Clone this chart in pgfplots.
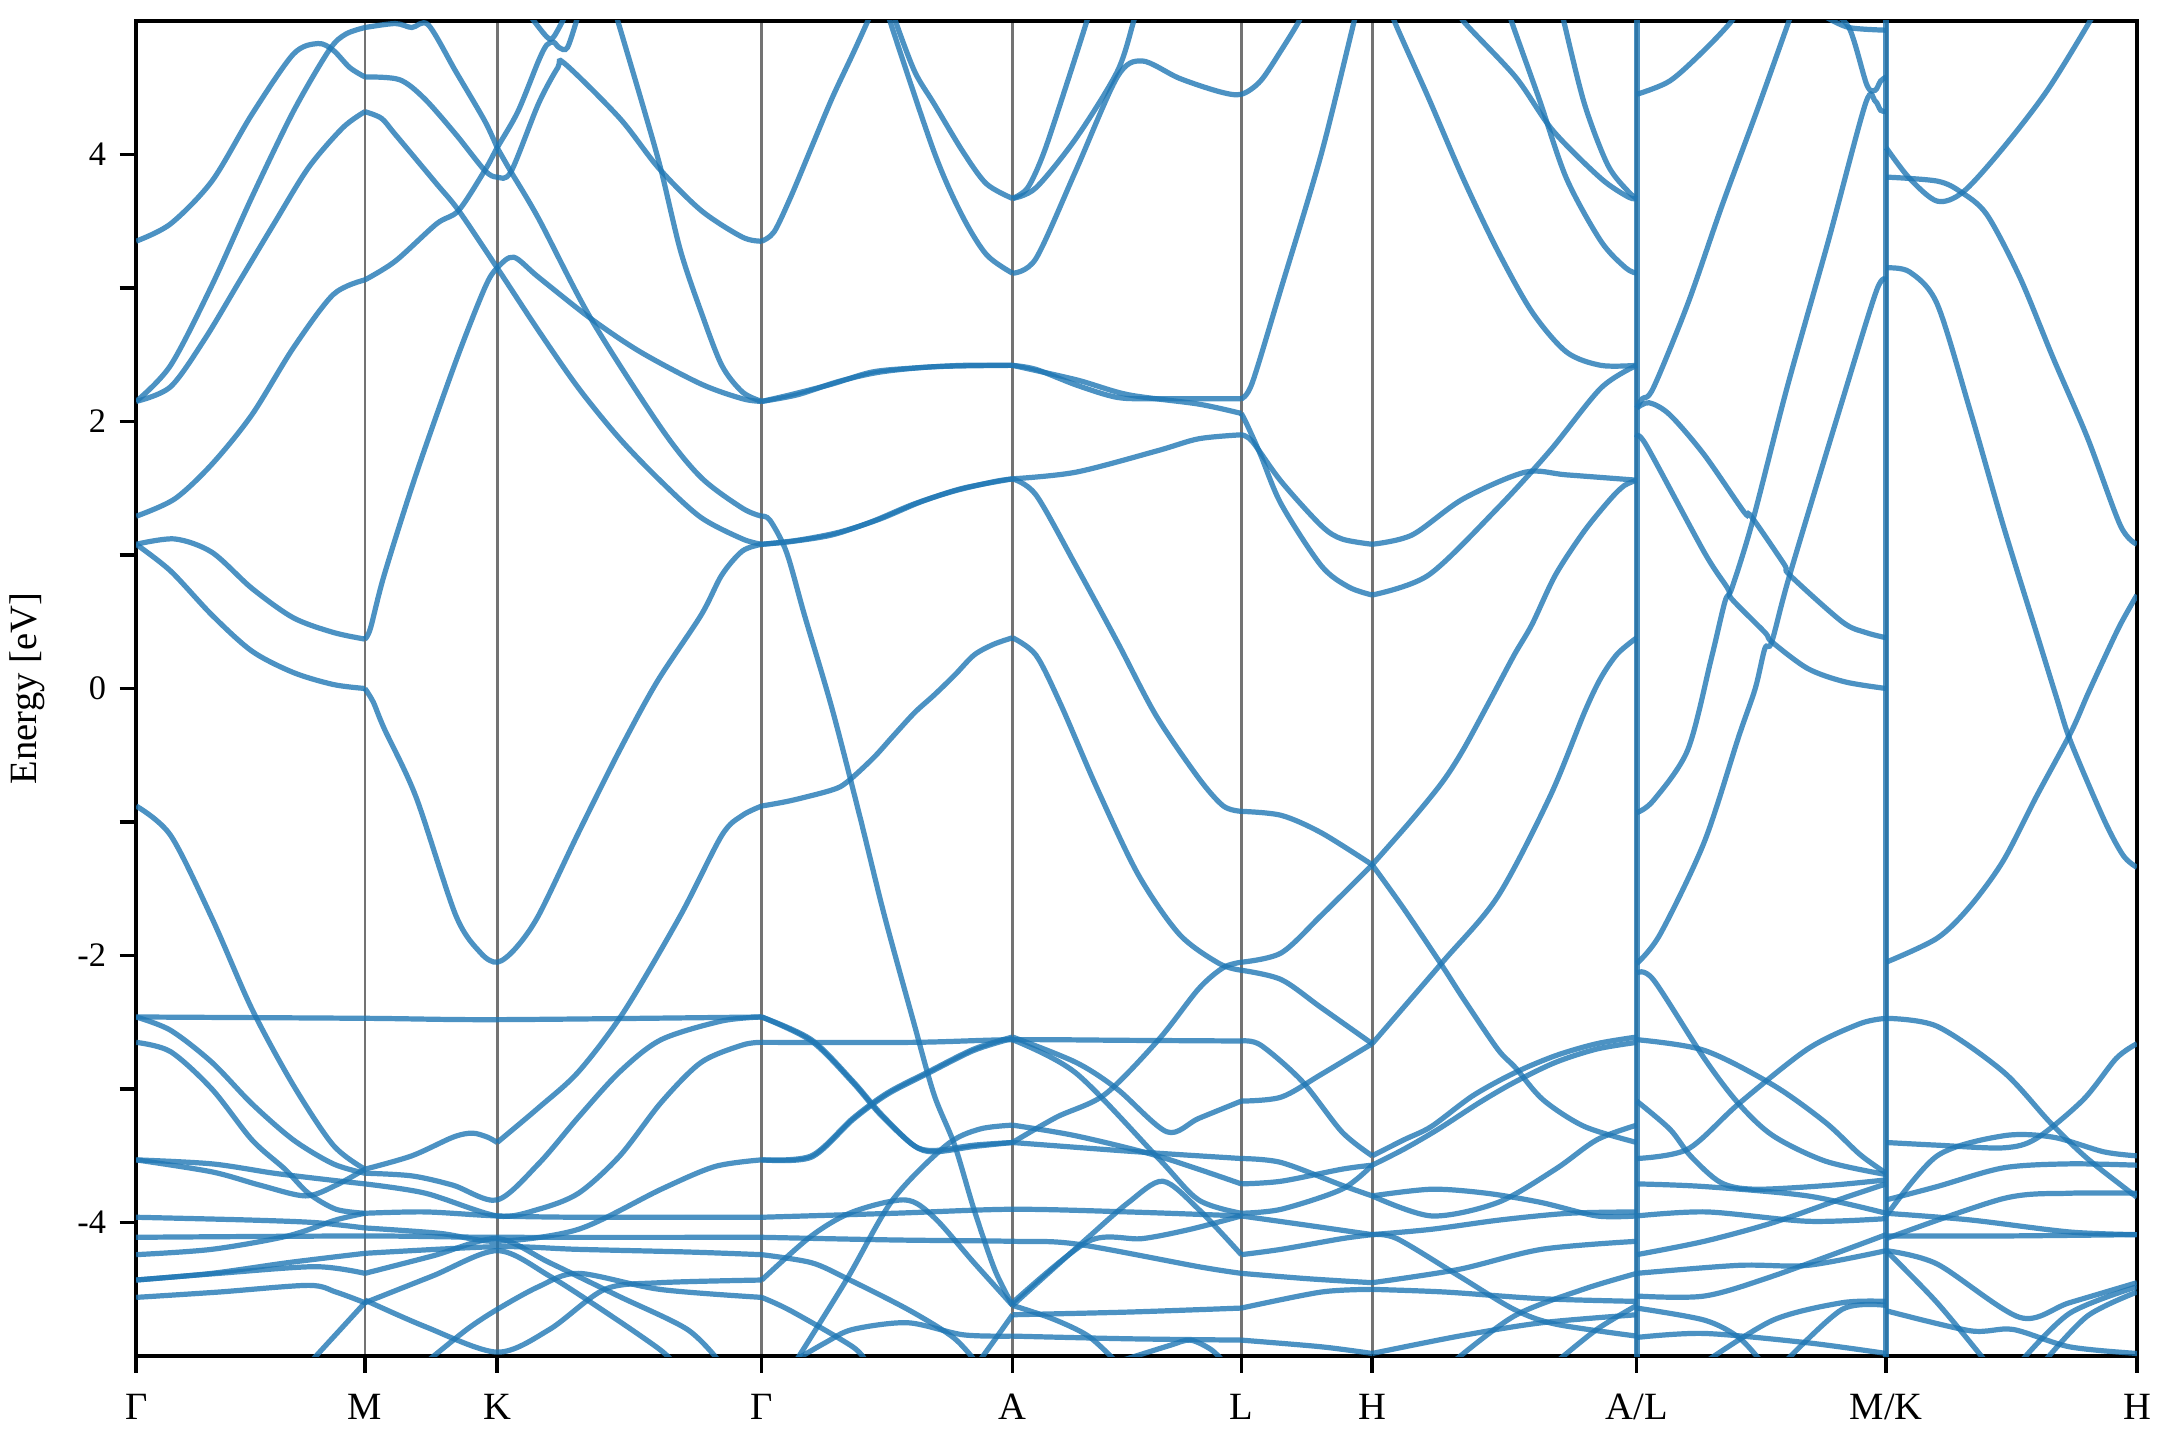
\documentclass[border=0pt]{standalone}
\usepackage{fontspec}
\setmainfont{Liberation Serif}
\usepackage{pgfplots}
\pgfplotsset{compat=1.18}
\definecolor{bandc}{RGB}{31,119,180}
\newcommand{\band}[1]{\addplot[band] coordinates {#1};}
\begin{document}
\begin{tikzpicture}
\begin{axis}[
    scale only axis,
    width=18.22cm, height=12.16cm,
    xmin=0, xmax=1452, ymin=-5, ymax=5,
    band/.style={bandc, opacity=0.8, line width=1.35pt, smooth, tension=0.5},
    xtick={0,166,262,454,636,802,897,1089,1270,1452},
    xticklabels={Γ,M,K,Γ,A,L,H,A/L,M/K,H},
    ytick={-4,-3,-2,-1,0,1,2,3,4},
    yticklabels={-4,,-2,,0,,2,,4},
    xtick pos=bottom, ytick pos=left,
    tick align=outside,
    major tick length=0.15cm,
    tick style={black, line width=0.9pt},
    axis line style={line width=1.1pt},
    xmajorgrids, major x grid style={black!55, line width=0.7pt},
    x tick label style={font=\fontsize{10}{12}\selectfont, yshift=-2pt},
    y tick label style={font=\fontsize{8.9}{10}\selectfont},
    ylabel={Energy [eV]},
    ylabel style={font=\fontsize{10}{12}\selectfont, yshift=1.5pt},
]
% ---- Gamma - M ----
\band{(0,3.35)(25,3.48)(55,3.8)(84,4.3)(114,4.75)(132,4.83)(143,4.78)(155,4.65)(166,4.58)}
\band{(0,2.15)(25,2.42)(55,3.02)(84,3.68)(114,4.32)(140,4.78)(152,4.9)(166,4.95)}
\band{(0,2.15)(25,2.26)(50,2.62)(75,3.05)(100,3.48)(125,3.9)(150,4.2)(166,4.32)}
\band{(0,1.29)(28,1.42)(55,1.68)(84,2.05)(114,2.55)(143,2.95)(166,3.06)}
\band{(0,1.08)(28,1.12)(55,1.02)(84,0.75)(114,0.53)(143,0.42)(166,0.37)}
\band{(0,1.08)(25,0.88)(55,0.55)(84,0.28)(114,0.12)(143,0.03)(166,0)}
\band{(0,-0.88)(25,-1.1)(55,-1.72)(84,-2.4)(114,-2.97)(143,-3.42)(166,-3.60)}
\band{(0,-2.46)(166,-2.47)(262,-2.48)(454,-2.46)}
\band{(0,-2.46)(25,-2.56)(55,-2.8)(84,-3.11)(114,-3.38)(143,-3.56)(166,-3.63)}
\band{(0,-2.65)(25,-2.72)(55,-3.0)(84,-3.38)(108,-3.6)(125,-3.78)(145,-3.9)(166,-3.93)}
\band{(0,-3.53)(55,-3.56)(100,-3.63)(140,-3.68)(166,-3.71)}
\band{(0,-3.53)(55,-3.62)(90,-3.72)(123,-3.80)(145,-3.72)(166,-3.60)}
\band{(0,-3.96)(80,-3.98)(130,-4.0)(166,-4.04)}
\band{(0,-4.11)(166,-4.10)(262,-4.11)(454,-4.11)}
\band{(0,-4.24)(55,-4.2)(110,-4.1)(145,-3.98)(166,-3.93)}
\band{(0,-4.43)(55,-4.38)(110,-4.3)(166,-4.23)}
\band{(0,-4.43)(60,-4.38)(130,-4.33)(166,-4.38)}
\band{(0,-4.56)(60,-4.52)(125,-4.47)(145,-4.52)(166,-4.6)}
\band{(126,-5.05)(150,-4.78)(166,-4.60)}
% ---- M - K - Gamma ----
\band{(166,4.95)(188,4.98)(200,4.95)(212,4.97)(232,4.62)(253,4.25)(262,4.05)}
\band{(262,4.05)(272,3.87)(292,3.52)(330,2.77)(381,1.95)(410,1.58)(440,1.35)(454,1.29)}
\band{(166,4.58)(191,4.56)(209,4.42)(232,4.15)(253,3.88)(262,3.83)(272,3.87)(292,4.38)(306,4.65)(311,4.68)(351,4.27)(379,3.9)(410,3.58)(440,3.38)(454,3.35)}
\band{(166,4.32)(178,4.27)(188,4.15)(218,3.78)(234,3.58)(262,3.15)(292,2.68)(321,2.25)(351,1.87)(381,1.55)(410,1.28)(440,1.12)(454,1.08)}
\band{(166,3.06)(188,3.2)(218,3.48)(234,3.58)(253,3.88)(262,4.05)(277,4.32)(292,4.7)(298,4.82)(303,4.84)(307,4.8)(313,4.8)(321,5.05)}
\band{(166,0.37)(170,0.45)(180,0.85)(203,1.6)(232,2.45)(253,3.0)(262,3.15)(274,3.23)(292,3.08)(330,2.77)(366,2.52)(410,2.28)(440,2.17)(454,2.15)}
\band{(166,0)(172,-0.1)(180,-0.3)(203,-0.81)(232,-1.7)(250,-1.98)(262,-2.05)(275,-1.95)(292,-1.7)(321,-1.08)(351,-0.46)(378,0.05)(410,0.55)(425,0.85)(440,1.03)(454,1.08)}
\band{(285,5.05)(298,4.88)(303,4.88)(312,5.05)}
\band{(345,5.15)(349.5,5.0)(369,4.32)(381,3.88)(395,3.28)(410,2.82)(425,2.42)(440,2.22)(454,2.15)}
\band{(166,-3.60)(200,-3.5)(230,-3.36)(244,-3.33)(255,-3.36)(262,-3.40)}
\band{(262,-3.40)(292,-3.14)(321,-2.87)(354,-2.42)(395,-1.70)(425,-1.10)(440,-0.95)(454,-0.88)}
\band{(166,-3.63)(200,-3.65)(230,-3.72)(262,-3.83)(292,-3.56)(321,-3.21)(351,-2.87)(381,-2.63)(425,-2.49)(454,-2.46)}
\band{(166,-3.71)(210,-3.78)(262,-3.95)(292,-3.9)(321,-3.78)(351,-3.5)(381,-3.1)(410,-2.8)(440,-2.67)(454,-2.65)}
\band{(166,-3.93)(210,-3.92)(262,-3.95)(321,-3.96)(400,-3.96)(454,-3.96)}
\band{(166,-4.04)(220,-4.08)(262,-4.14)(321,-4.05)(381,-3.75)(420,-3.58)(454,-3.53)}
\band{(166,-4.23)(262,-4.18)(320,-4.2)(400,-4.22)(454,-4.24)}
\band{(166,-4.38)(215,-4.25)(262,-4.12)(300,-4.3)(350,-4.55)(400,-4.8)(424,-5.05)}
\band{(166,-4.58)(210,-4.78)(262,-4.97)(300,-4.8)(340,-4.5)(380,-4.45)(454,-4.43)}
\band{(166,-4.60)(215,-4.4)(262,-4.21)(300,-4.4)(345,-4.7)(380,-4.95)(390,-5.05)}
\band{(210,-5.05)(240,-4.8)(262,-4.65)(292,-4.48)(321,-4.38)(380,-4.5)(454,-4.56)}
% ---- Gamma - A ----
\band{(454,3.35)(463,3.42)(475,3.68)(490,4.05)(505,4.42)(520,4.75)(531,5.0)(535,5.1)}
\band{(549,5.1)(551,5.0)(565,4.62)(579,4.38)(600,4.02)(617,3.78)(636,3.67)}
\band{(545,5.1)(547,5.0)(579,4.02)(599,3.55)(617,3.25)(636,3.11)}
\band{(454,2.15)(475,2.2)(505,2.28)(534,2.37)(564,2.4)(600,2.42)(636,2.42)}
\band{(454,2.15)(480,2.2)(510,2.3)(540,2.37)(580,2.41)(636,2.42)}
\band{(454,1.08)(475,1.1)(505,1.15)(534,1.25)(564,1.38)(594,1.48)(623,1.55)(636,1.57)}
\band{(454,1.08)(480,1.11)(510,1.17)(540,1.27)(570,1.4)(600,1.5)(636,1.57)}
\band{(454,1.29)(460,1.26)(472,1.02)(485,0.55)(505,-0.15)(525,-0.95)(543,-1.70)(564,-2.49)(579,-3.04)(594,-3.42)(608,-3.9)(623,-4.35)(636,-4.62)}
\band{(454,-0.88)(475,-0.84)(505,-0.76)(516,-0.70)(535,-0.52)(549,-0.36)(565,-0.18)(579,-0.05)(594,0.1)(608,0.25)(622,0.33)(636,0.38)}
\band{(454,-2.46)(490,-2.63)(520,-2.94)(540,-3.18)(564,-3.42)(579,-3.47)(608,-3.43)(636,-3.40)}
\band{(454,-2.46)(490,-2.64)(520,-2.95)(540,-3.19)(564,-3.42)(579,-3.46)(608,-3.42)(636,-3.40)}
\band{(454,-2.65)(564,-2.65)(636,-2.63)(720,-2.635)(802,-2.64)}
\band{(454,-3.53)(490,-3.5)(520,-3.22)(545,-3.03)(575,-2.87)(608,-2.70)(636,-2.61)}
\band{(454,-3.53)(490,-3.51)(520,-3.23)(545,-3.04)(575,-2.88)(608,-2.71)(636,-2.62)}
\band{(454,-3.96)(550,-3.93)(636,-3.90)(720,-3.92)(802,-3.95)}
\band{(454,-4.11)(550,-4.13)(636,-4.14)(682,-4.16)(771,-4.33)(802,-4.38)}
\band{(454,-4.24)(490,-4.3)(516,-4.42)(560,-4.65)(593,-4.86)(610,-5.05)}
\band{(454,-4.43)(490,-4.1)(520,-3.92)(558,-3.83)(579,-3.96)(608,-4.3)(636,-4.62)}
\band{(454,-4.56)(475,-4.66)(520,-4.93)(530,-5.05)}
\band{(478,-5.05)(516,-4.42)(549,-3.83)(588,-3.42)(612,-3.3)(636,-3.27)}
\band{(475,-5.05)(500,-4.9)(520,-4.8)(560,-4.75)(600,-4.84)(636,-4.85)}
\band{(611,-5.05)(625,-4.85)(636,-4.69)}
% ---- A - L ----
\band{(636,3.67)(647,3.75)(659,4.02)(677,4.58)(690,5.0)(693,5.1)}
\band{(636,3.67)(653,3.75)(682,4.12)(712,4.62)(724,5.0)(727,5.1)}
\band{(636,3.11)(653,3.22)(682,3.88)(712,4.58)(730,4.70)(757,4.57)(786,4.47)(802,4.45)(816,4.55)(831,4.78)(844,5.0)(847,5.1)}
\band{(636,2.42)(653,2.39)(683,2.27)(712,2.18)(740,2.17)(802,2.17)}
\band{(636,2.42)(683,2.31)(720,2.2)(771,2.13)(802,2.06)}
\band{(636,1.57)(682,1.62)(741,1.78)(771,1.87)(802,1.9)}
\band{(636,1.57)(653,1.45)(682,0.92)(712,0.35)(740,-0.2)(771,-0.67)(789,-0.88)(802,-0.92)}
\band{(636,0.38)(653,0.25)(671,-0.12)(697,-0.74)(727,-1.39)(757,-1.84)(786,-2.06)(802,-2.11)}
\band{(636,-3.40)(668,-3.21)(703,-3.04)(742,-2.63)(771,-2.25)(789,-2.09)(802,-2.05)}
\band{(636,-2.61)(682,-2.8)(712,-3.0)(748,-3.32)(771,-3.22)(802,-3.09)}
\band{(636,-2.63)(682,-2.88)(742,-3.52)(771,-3.83)(802,-3.93)}
\band{(636,-3.27)(682,-3.35)(741,-3.5)(802,-3.71)}
\band{(636,-3.40)(700,-3.45)(741,-3.48)(802,-3.52)}
\band{(636,-4.62)(665,-4.35)(691,-4.11)(720,-3.85)(745,-3.69)(771,-3.9)(802,-4.24)}
\band{(636,-4.6)(691,-4.14)(730,-4.12)(765,-4.05)(802,-3.95)}
\band{(636,-4.69)(720,-4.67)(802,-4.64)}
\band{(636,-4.85)(720,-4.87)(802,-4.88)}
\band{(636,-4.62)(665,-4.72)(691,-4.85)(712,-5.05)}
\band{(710,-5.05)(750,-4.92)(765,-4.88)(780,-4.95)(790,-5.05)}
% ---- L - H ----
\band{(802,2.17)(810,2.29)(831,3.0)(860,4.0)(884,5.0)(887,5.1)}
\band{(802,2.06)(806,1.98)(816,1.75)(831,1.38)(860,0.92)(880,0.76)(897,0.70)}
\band{(802,1.9)(810,1.85)(831,1.55)(860,1.22)(875,1.12)(897,1.08)}
\band{(802,-0.92)(831,-0.95)(860,-1.08)(897,-1.32)}
\band{(802,-2.05)(831,-1.98)(860,-1.70)(897,-1.32)}
\band{(802,-2.11)(831,-2.18)(860,-2.39)(897,-2.66)}
\band{(802,-2.64)(816,-2.67)(846,-2.94)(875,-3.32)(897,-3.50)}
\band{(802,-3.09)(831,-3.06)(860,-2.89)(897,-2.66)}
\band{(802,-3.52)(831,-3.55)(875,-3.72)(897,-3.80)}
\band{(802,-3.71)(831,-3.69)(875,-3.6)(897,-3.57)}
\band{(802,-3.93)(831,-3.9)(875,-3.75)(897,-3.57)}
\band{(802,-3.95)(850,-4.02)(897,-4.09)}
\band{(802,-4.24)(831,-4.2)(875,-4.12)(897,-4.09)}
\band{(802,-4.38)(850,-4.42)(897,-4.45)}
\band{(802,-4.64)(860,-4.52)(897,-4.50)}
\band{(802,-4.88)(860,-4.93)(897,-4.98)}
% ---- H - A/L ----
\band{(897,1.08)(926,1.15)(963,1.42)(1008,1.62)(1038,1.6)(1089,1.56)}
\band{(897,0.70)(938,0.85)(988,1.35)(1026,1.78)(1063,2.25)(1089,2.42)}
\band{(911,5.1)(913,5.0)(938,4.42)(963,3.82)(988,3.28)(1013,2.82)(1038,2.52)(1063,2.42)(1089,2.42)}
\band{(961,5.1)(963,5.0)(1001,4.58)(1028,4.18)(1063,3.82)(1083,3.68)(1089,3.67)}
\band{(996,5.1)(998,5.0)(1018,4.42)(1038,3.82)(1063,3.35)(1081,3.15)(1089,3.11)}
\band{(1034,5.1)(1036,5.0)(1051,4.38)(1068,3.92)(1083,3.72)(1089,3.67)}
\band{(897,-1.32)(926,-0.98)(948,-0.70)(963,-0.46)(983,-0.08)(1000,0.25)(1013,0.48)(1030,0.85)(1051,1.18)(1070,1.42)(1080,1.52)(1089,1.56)}
\band{(897,-1.32)(920,-1.65)(948,-2.08)(963,-2.32)(988,-2.70)(1001,-2.84)(1021,-3.08)(1051,-3.28)(1089,-3.40)}
\band{(897,-2.66)(948,-2.05)(988,-1.56)(1026,-0.81)(1051,-0.18)(1063,0.08)(1075,0.26)(1089,0.38)}
\band{(897,-3.50)(920,-3.38)(940,-3.28)(970,-3.05)(1000,-2.88)(1030,-2.75)(1060,-2.66)(1089,-2.61)}
\band{(897,-3.57)(920,-3.45)(945,-3.3)(975,-3.1)(1000,-2.95)(1030,-2.8)(1060,-2.7)(1089,-2.65)}
\band{(897,-3.80)(940,-3.95)(988,-3.85)(1030,-3.6)(1060,-3.38)(1089,-3.27)}
\band{(897,-3.80)(940,-3.75)(980,-3.78)(1020,-3.85)(1060,-3.95)(1089,-3.95)}
\band{(897,-4.09)(940,-4.05)(990,-3.98)(1040,-3.93)(1089,-3.92)}
\band{(897,-4.09)(915,-4.12)(960,-4.4)(1000,-4.65)(1030,-4.76)(1089,-4.85)}
\band{(897,-4.45)(960,-4.35)(1020,-4.2)(1089,-4.14)}
\band{(897,-4.50)(950,-4.52)(1020,-4.57)(1089,-4.59)}
\band{(897,-4.98)(960,-4.85)(1020,-4.75)(1089,-4.69)}
\band{(955,-5.05)(1000,-4.7)(1050,-4.5)(1089,-4.38)}
\band{(1030,-5.05)(1060,-4.8)(1089,-4.62)}
% ---- A/L - M/K ----
\band{(1089,4.45)(1113,4.55)(1138,4.78)(1158,5.0)(1162,5.1)}
\band{(1089,2.1)(1093,2.17)(1101,2.25)(1126,2.88)(1151,3.62)(1176,4.32)(1199.5,5.0)(1203,5.1)}
\band{(1089,2.1)(1098,2.14)(1113,2.05)(1138,1.75)(1167,1.32)(1172,1.29)(1196,0.93)(1200,0.85)(1238,0.5)(1255,0.42)(1270,0.38)}
\band{(1089,1.88)(1096,1.82)(1138,1.02)(1155,0.75)(1158,0.67)(1182,0.42)(1187,0.35)(1213,0.15)(1240,0.05)(1270,0.0)}
\band{(1089,-0.93)(1101,-0.84)(1126,-0.46)(1143,0.22)(1153,0.65)(1158,0.75)(1173,1.25)(1198,2.25)(1228,3.35)(1255,4.38)(1262,4.4)(1266,4.33)(1270,4.32)}
\band{(1089,-2.06)(1106,-1.84)(1138,-1.15)(1163,-0.36)(1175,0.0)(1182,0.3)(1187,0.35)(1200,0.85)(1238,2.15)(1263,2.98)(1270,3.06)}
\band{(1226,5.1)(1243,4.95)(1256,4.52)(1262,4.48)(1266,4.55)(1270,4.58)}
\band{(1226,5.03)(1243,4.95)(1270,4.93)}
\band{(1089,-2.13)(1101,-2.18)(1138,-2.77)(1163,-3.11)(1188,-3.35)(1226,-3.54)(1270,-3.64)}
\band{(1089,-2.63)(1138,-2.71)(1188,-2.97)(1226,-3.25)(1251,-3.49)(1270,-3.63)}
\band{(1089,-3.09)(1113,-3.3)(1128,-3.5)(1150,-3.7)(1175,-3.75)(1230,-3.72)(1270,-3.68)}
\band{(1089,-3.52)(1126,-3.45)(1163,-3.11)(1213,-2.70)(1251,-2.51)(1270,-2.47)}
\band{(1089,-3.71)(1138,-3.73)(1213,-3.80)(1270,-3.93)}
\band{(1089,-3.95)(1140,-3.92)(1213,-3.99)(1270,-3.97)}
\band{(1089,-4.24)(1138,-4.14)(1188,-4.0)(1238,-3.82)(1270,-3.71)}
\band{(1089,-4.38)(1163,-4.32)(1213,-4.32)(1270,-4.21)}
\band{(1089,-4.55)(1138,-4.55)(1188,-4.4)(1270,-4.09)}
\band{(1089,-4.64)(1138,-4.73)(1163,-4.86)(1180,-5.05)}
\band{(1138,-5.05)(1188,-4.73)(1238,-4.6)(1270,-4.59)}
\band{(1196,-5.05)(1238,-4.65)(1270,-4.62)}
\band{(1089,-4.86)(1138,-4.83)(1213,-4.9)(1270,-4.98)}
% ---- M/K - H ----
\band{(1270,4.05)(1287,3.82)(1307,3.65)(1326,3.72)(1355,4.05)(1387,4.48)(1418,5.0)(1422,5.1)}
\band{(1270,3.83)(1307,3.8)(1324,3.72)(1343,3.55)(1367,3.08)(1391,2.48)(1416,1.88)(1440,1.22)(1452,1.08)}
\band{(1270,3.15)(1287,3.12)(1307,2.88)(1331,2.08)(1355,1.22)(1379,0.42)(1394,-0.08)(1404,-0.40)(1428,-0.98)(1442,-1.25)(1452,-1.34)}
\band{(1270,-2.05)(1307,-1.87)(1331,-1.63)(1355,-1.29)(1379,-0.81)(1404,-0.33)(1416,-0.05)(1428,0.22)(1440,0.48)(1452,0.70)}
\band{(1270,-2.47)(1307,-2.53)(1355,-2.87)(1389,-3.25)(1416,-3.52)(1452,-3.81)}
\band{(1270,-3.40)(1307,-3.42)(1355,-3.44)(1379,-3.37)(1413,-3.08)(1437,-2.77)(1452,-2.66)}
\band{(1270,-3.83)(1307,-3.73)(1355,-3.59)(1403,-3.56)(1452,-3.57)}
\band{(1270,-3.95)(1307,-3.5)(1355,-3.35)(1391,-3.36)(1428,-3.47)(1452,-3.50)}
\band{(1270,-4.12)(1355,-3.82)(1403,-3.78)(1452,-3.78)}
\band{(1270,-3.93)(1331,-3.98)(1403,-4.07)(1452,-4.09)}
\band{(1270,-4.10)(1355,-4.1)(1452,-4.09)}
\band{(1270,-4.21)(1307,-4.31)(1367,-4.71)(1403,-4.6)(1452,-4.45)}
\band{(1270,-4.66)(1331,-4.81)(1362,-4.8)(1403,-4.93)(1452,-4.98)}
\band{(1270,-4.21)(1307,-4.6)(1343,-5.05)}
\band{(1367,-5.05)(1403,-4.68)(1452,-4.48)}
\band{(1384,-5.05)(1416,-4.7)(1452,-4.52)}
% ---- path discontinuities ----
\addplot[band, line width=1.5pt] coordinates {(1089,-5.1) (1089,5.1)};
\addplot[band, line width=1.5pt] coordinates {(1270,-5.1) (1270,5.1)};
\end{axis}
\pgfresetboundingbox
\path ([xshift=-1.24cm,yshift=-0.77cm]current axis.south west) rectangle ([xshift=0.21cm,yshift=0.19cm]current axis.north east);
\end{tikzpicture}
\end{document}
